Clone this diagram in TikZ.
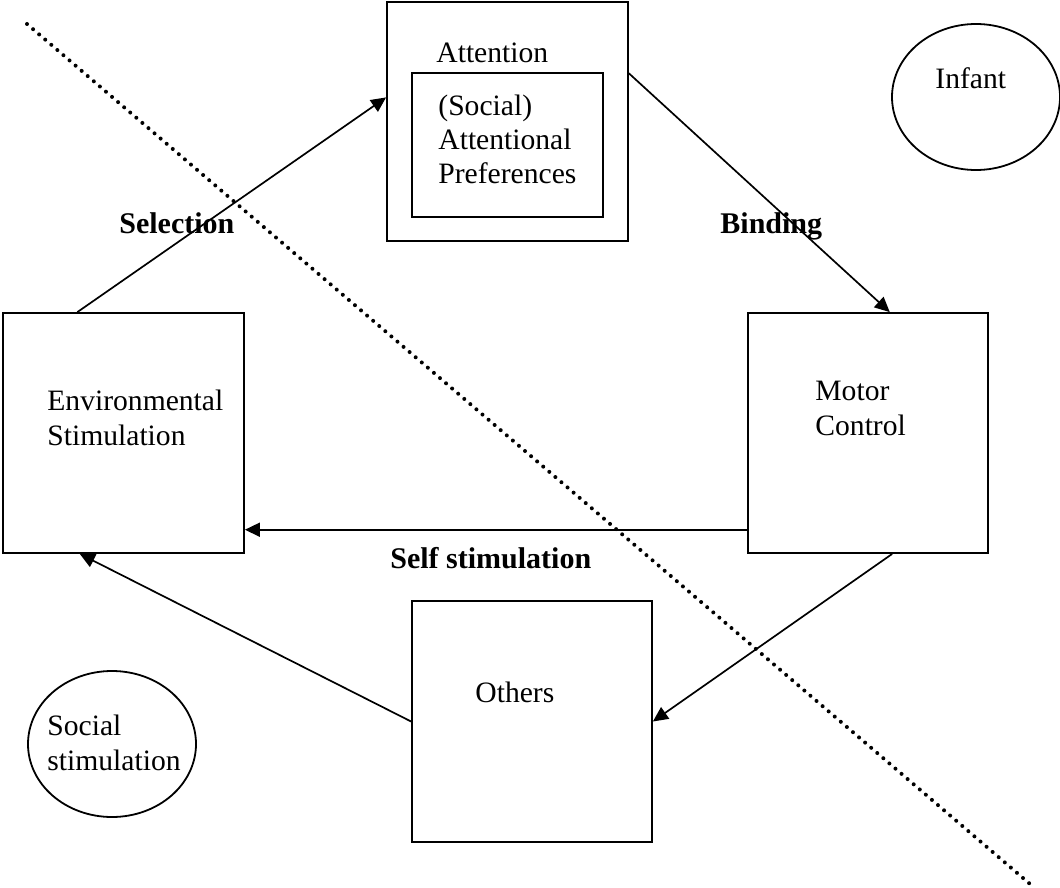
\documentclass[tikz,border=0pt]{standalone}
\usepackage{fontspec}
\setmainfont{Liberation Serif}
\usetikzlibrary{shapes.geometric, arrows.meta, calc}

\begin{document}
\begin{tikzpicture}[x=0.5pt, y=-0.5pt]
\tikzset{
    blk/.style={draw, line width=0.9pt, inner sep=0pt, minimum width=120.5pt, minimum height=120pt},
    oval/.style={draw, ellipse, line width=0.9pt, inner sep=0pt, minimum width=84pt, minimum height=73pt},
    txt/.style={anchor=base west, inner sep=0pt, align=left, font=\fontsize{14.8}{17.2}\selectfont},
    lbl/.style={anchor=base west, inner sep=0pt, font=\fontsize{15}{17}\selectfont\bfseries},
    flow/.style={-{Triangle[length=7.5pt,width=7pt]}, line width=0.85pt}
}
\useasboundingbox (0,0) rectangle (1060,888);

% Boxes
\node[blk, minimum height=119.5pt] (att) at (507.5,121.5){};
\node[blk, minimum width=95.5pt, minimum height=72pt] (pref) at (507.5,145){};
\node[blk] (env) at (123.5,433){};
\node[blk, minimum width=120pt] (motor) at (868,433){};
\node[blk, minimum width=120pt, minimum height=120.5pt] (others) at (532,721.5){};

\node[oval] (infant) at (976,97){};
\node[oval] (social) at (112,744){};

% Texts (base = last line)
\node[txt] (atttxt) at (436,63){Attention};
\node[txt] (preftxt) at (438,184){(Social)\\Attentional\\Preferences};
\node[txt] (envtxt) at (47,445){Environmental\\Stimulation};
\node[txt] (motortxt) at (815,435){Motor\\Control};
\node[txt] (otherstxt) at (475,702){Others};
\node[txt] (infanttxt) at (935,89){Infant};
\node[txt] (socialtxt) at (47,770){Social\\stimulation};

\node[lbl] (selection) at (119,233){Selection};
\node[lbl] (binding) at (720,233){Binding};
\node[lbl] (selfstim) at (390,568){Self stimulation};

% Arrows
\draw[flow] ($(env.north west)!0.31!(env.north east)$) -- ($(att.north west)!0.4!(att.south west)$);
\draw[flow] ($(att.north east)!0.3!(att.south east)$) -- ($(motor.north west)!0.59!(motor.north east)$);
\draw[flow] ($(motor.north west)!0.9!(motor.south west)$) -- ($(env.north east)!0.9!(env.south east)$);
\draw[flow] ($(motor.south west)!0.6!(motor.south east)$) -- (others.east);
\draw[flow] (others.west) -- ($(env.south west)!0.32!(env.south east)$);

% Divider
\coordinate (cut1) at (27,24);
\coordinate (cut2) at (1030,884);
\draw[line width=2pt, line cap=round, dash pattern=on 0pt off 4pt] (cut1) -- (cut2);

\end{tikzpicture}
\end{document}
